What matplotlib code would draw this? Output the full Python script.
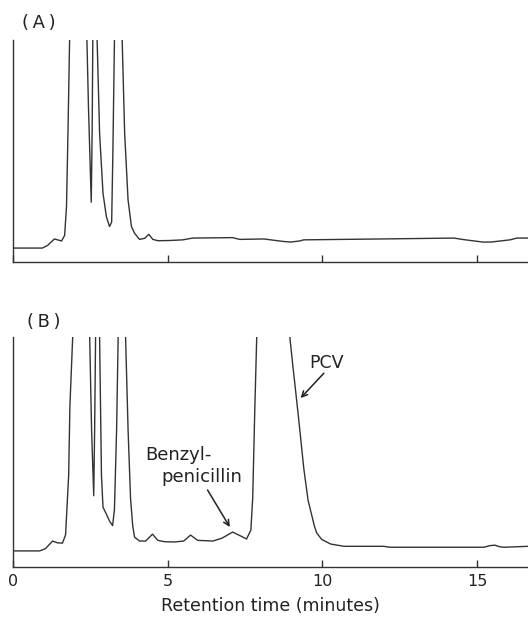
import matplotlib
matplotlib.use("Agg")
import matplotlib.pyplot as plt

# Panel A chromatogram (retention time in minutes, detector response in % of panel height)
time_a = [0.00, 0.95, 1.12, 1.34, 1.44, 1.57, 1.67, 1.73, 1.78, 1.83, 2.10, 2.39, 2.44, 2.53, 2.56,
          2.58, 2.65, 2.72, 2.80, 2.91, 3.02, 3.12, 3.19, 3.23, 3.28, 3.40, 3.53, 3.61, 3.72, 3.83,
          3.93, 4.09, 4.26, 4.39, 4.52, 4.69, 5.06, 5.49, 5.81, 7.10, 7.33, 8.11, 8.72, 8.98, 9.27,
          9.40, 12.5, 14.26, 14.52, 15.19, 15.45, 16.07, 16.29, 16.65]
resp_a = [6.3, 6.3, 7.5, 10.4, 10.0, 9.5, 12, 25, 60, 100, 250, 100, 70, 27, 60,
          100, 200, 100, 58, 31, 20.4, 16, 18, 50, 100, 250, 100, 58, 28, 16,
          13, 10.2, 10.7, 12.5, 10.2, 9.6, 9.7, 10.0, 10.8, 11.0, 10.2, 10.4, 9.3, 9.0, 9.5,
          10.0, 10.5, 10.8, 10.2, 9.0, 9.0, 10.0, 10.8, 10.8]

# Panel B chromatogram
time_b = [0.00, 0.86, 1.05, 1.28, 1.44, 1.60, 1.70, 1.80, 1.84, 1.93, 2.20, 2.48, 2.54, 2.61, 2.64,
          2.67, 2.72, 2.80, 2.86, 2.91, 3.02, 3.12, 3.22, 3.28, 3.35, 3.40, 3.50, 3.64, 3.72, 3.80,
          3.87, 3.93, 4.09, 4.29, 4.51, 4.68, 4.90, 5.23, 5.52, 5.74, 5.97, 6.46, 6.75, 7.10, 7.36,
          7.55, 7.69, 7.75, 7.82, 7.88, 8.40, 8.95, 9.06, 9.17, 9.27, 9.40, 9.54, 9.67, 9.75, 9.82,
          9.98, 10.27, 10.70, 11.99, 12.18, 15.23, 15.42, 15.58, 15.74, 15.87, 16.65]
resp_b = [7.0, 7.0, 8.0, 11.3, 10.5, 10.4, 14, 40, 70, 100, 250, 100, 60, 31, 60,
          100, 200, 100, 40, 26, 23, 20, 18, 25, 60, 100, 250, 100, 60, 30,
          18, 13, 11.3, 11.3, 14.3, 11.6, 11.0, 10.9, 11.3, 13.9, 11.6, 11.3, 12.5, 15.2, 13.5,
          12.2, 16, 30, 70, 100, 250, 100, 86, 72.6, 60, 43, 29, 21.9, 17.5, 14.8,
          12, 10, 9.0, 9.0, 8.6, 8.6, 9.3, 9.5, 8.8, 8.6, 9.0]

x_ticks = [0, 5, 10, 15]
x_ticklabels = ["0", "5", "10", "15"]
panel_labels = ["(\u2009A\u2009)", "(\u2009B\u2009)"]
x_label = "Retention time (minutes)"

fig = plt.figure(figsize=(5.28, 6.18), dpi=100)
ax_a = fig.add_axes([0.0246, 0.576, 0.9754, 0.359])
ax_b = fig.add_axes([0.0246, 0.0825, 0.9754, 0.372])

line_col = "#333333"
txt_col = "#222222"
for ax, t, r in [(ax_a, time_a, resp_a), (ax_b, time_b, resp_b)]:
    ax.plot(t, r, color=line_col, lw=1.0)
    ax.set_xlim(0, 16.65)
    ax.set_ylim(0, 100)
    ax.spines["top"].set_visible(False)
    ax.spines["right"].set_visible(False)
    for s in ["left", "bottom"]:
        ax.spines[s].set_color(line_col)
        ax.spines[s].set_linewidth(1.0)
    ax.set_yticks([])
    ax.set_xticks(x_ticks)
    ax.tick_params(axis="x", direction="in", length=5, width=1.0, color=line_col, pad=5)

ax_a.set_xticklabels([])
ax_b.set_xticklabels(x_ticklabels, fontsize=11.5, color=txt_col)
ax_b.set_xlabel(x_label, fontsize=12.5, color=txt_col, labelpad=6)

fig.text(22 / 528, 1 - 23 / 618, panel_labels[0], fontsize=13, color=txt_col, va="center", ha="left")
fig.text(27 / 528, 1 - 322 / 618, panel_labels[1], fontsize=13, color=txt_col, va="center", ha="left")

# annotations
ax_b.text(10.15, 88.7, "PCV", fontsize=12.5, color=txt_col, ha="center", va="center")
ax_b.annotate("", xy=(9.30, 73.5), xytext=(10.05, 84.3),
              arrowprops=dict(arrowstyle="->", color=txt_col, lw=1.1, shrinkA=0, shrinkB=0))
ax_b.text(4.26, 48.7, "Benzyl-", fontsize=13, color=txt_col, ha="left", va="center")
ax_b.text(4.81, 39.1, "penicillin", fontsize=13, color=txt_col, ha="left", va="center")
ax_b.annotate("", xy=(7.01, 17.4), xytext=(6.29, 33.5),
              arrowprops=dict(arrowstyle="->", color=txt_col, lw=1.1, shrinkA=0, shrinkB=0))

fig.savefig("out.png", dpi=100)
